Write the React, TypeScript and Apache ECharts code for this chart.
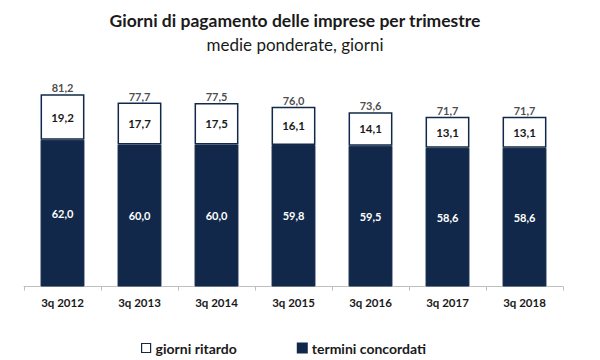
import React, { useEffect, useRef } from "react";
import * as echarts from "echarts";

const categories = ["3q 2012", "3q 2013", "3q 2014", "3q 2015", "3q 2016", "3q 2017", "3q 2018"];
const termini = [62.0, 60.0, 60.0, 59.8, 59.5, 58.6, 58.6];
const ritardo = [19.2, 17.7, 17.5, 16.1, 14.1, 13.1, 13.1];
const totals = [81.2, 77.7, 77.5, 76.0, 73.6, 71.7, 71.7];

const NAVY = "#12284a";
const FONT = "Lato";
const fmt = (v: number) => v.toFixed(1).replace(".", ",");

export default function App() {
  const ref = useRef<HTMLDivElement>(null);
  useEffect(() => {
    if (!ref.current) return;
    const chart = echarts.init(ref.current, null, { renderer: "svg" });
    chart.setOption({
      animation: false,
      textStyle: { fontFamily: FONT },
      title: [
        {
          text: "Giorni di pagamento delle imprese per trimestre",
          left: 290,
          textAlign: "center",
          top: 6,
          textStyle: { fontFamily: FONT, fontSize: 17.5, fontWeight: "bold", color: "#1a1a1a" },
        },
        {
          text: "medie ponderate, giorni",
          left: 290,
          textAlign: "center",
          top: 31,
          textStyle: { fontFamily: FONT, fontSize: 17, fontWeight: "normal", color: "#1a1a1a" },
        },
      ],
      legend: {
        top: 336,
        left: 136,
        itemGap: 60,
        itemWidth: 9,
        itemHeight: 9,
        textStyle: { fontFamily: FONT, fontSize: 14, fontWeight: "bold", color: "#1a1a1a" },
        data: [
          { name: "giorni ritardo", icon: "rect", itemStyle: { color: "#fff", borderColor: NAVY, borderWidth: 1.2 } },
          { name: "termini concordati", icon: "rect" },
        ],
      },
      grid: { left: 24, right: 37, top: 73.5, bottom: 73.5 },
      xAxis: {
        type: "category",
        data: categories,
        axisLine: { lineStyle: { color: "#bfbfbf" } },
        axisTick: { show: true, length: 4, lineStyle: { color: "#bfbfbf" } },
        axisLabel: { fontFamily: FONT, fontSize: 11.5, fontWeight: "bold", color: "#1a1a1a", margin: 10 },
      },
      yAxis: { type: "value", min: 0, max: 90, show: false, splitLine: { show: false } },
      series: [
        {
          name: "termini concordati",
          type: "bar",
          stack: "s",
          data: termini,
          barWidth: "57%",
          itemStyle: { color: NAVY, borderColor: NAVY, borderWidth: 1 },
          label: {
            show: true,
            position: "inside",
            color: "#fff",
            fontFamily: FONT,
            fontSize: 11,
            fontWeight: "bold",
            formatter: (p: any) => fmt(p.value),
          },
        },
        {
          name: "giorni ritardo",
          type: "bar",
          stack: "s",
          data: ritardo,
          barWidth: "57%",
          itemStyle: { color: "#fff", borderColor: NAVY, borderWidth: 1.5 },
          label: {
            show: true,
            position: "inside",
            color: "#1a1a1a",
            fontFamily: FONT,
            fontSize: 11.5,
            fontWeight: "bold",
            formatter: (p: any) => fmt(p.value),
          },
        },
        {
          name: "totale",
          type: "scatter",
          data: totals,
          symbolSize: 0,
          silent: true,
          label: {
            show: true,
            position: "top",
            distance: 1,
            color: "#1a1a1a",
            fontFamily: FONT,
            fontSize: 11,
            fontWeight: "bold",
            formatter: (p: any) => fmt(p.value),
          },
        },
      ],
    });
    return () => chart.dispose();
  }, []);
  return <div ref={ref} style={{ position: "absolute", left: 0, top: 0, width: 600, height: 360 }} />;
}
